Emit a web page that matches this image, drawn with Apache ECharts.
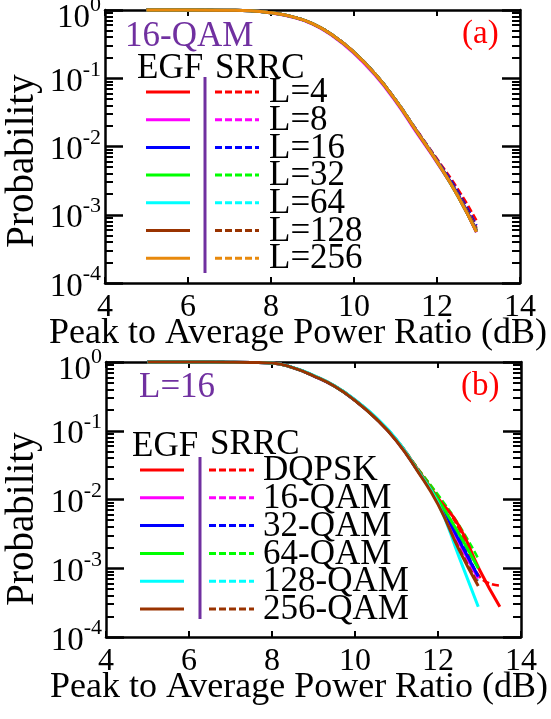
<!DOCTYPE html>
<html><head><meta charset="utf-8">
<script src="https://cdn.jsdelivr.net/npm/echarts@6/dist/echarts.min.js"></script>
<style>html,body{margin:0;padding:0;background:#fff}#c{width:551px;height:719px}</style>
</head><body><div id="c"></div>
<script>
// ---------- data ----------
const xTicks = [4, 6, 8, 10, 12, 14];
const yTickExponents = [-4, -3, -2, -1, 0];
const topLabels = ['L=4', 'L=8', 'L=16', 'L=32', 'L=64', 'L=128', 'L=256'];
const botLabels = ['DQPSK', '16-QAM', '32-QAM', '64-QAM', '128-QAM', '256-QAM'];

// panel (a): 16-QAM, PAPR CCDF
const topX = [5, 6, 7, 7.5, 8, 8.5, 9, 9.5, 10, 10.5, 11, 11.5, 12, 12.5, 12.95];
const egfL4   = [1, 1, 0.99, 0.973, 0.91, 0.80, 0.63, 0.42, 0.24, 0.117, 0.048, 0.0172, 0.0061, 0.0020, 0.00059];
const egfL8   = [1, 1, 0.99, 0.972, 0.905, 0.79, 0.62, 0.41, 0.232, 0.112, 0.046, 0.0162, 0.0058, 0.0019, 0.00055];
const egfL16  = [1, 1, 0.99, 0.973, 0.91, 0.80, 0.63, 0.42, 0.24, 0.117, 0.048, 0.0171, 0.0061, 0.0020, 0.00058];
const egfL32  = [1, 1, 0.99, 0.973, 0.91, 0.80, 0.63, 0.42, 0.24, 0.117, 0.048, 0.0170, 0.0060, 0.0019, 0.00057];
const egfL64  = [1, 1, 0.99, 0.973, 0.91, 0.80, 0.63, 0.42, 0.24, 0.117, 0.048, 0.0170, 0.0060, 0.0019, 0.00056];
const egfL128 = [1, 1, 0.99, 0.973, 0.91, 0.80, 0.63, 0.42, 0.24, 0.117, 0.048, 0.0169, 0.0060, 0.0019, 0.00056];
const egfL256 = [1, 1, 0.99, 0.973, 0.91, 0.80, 0.63, 0.42, 0.24, 0.117, 0.048, 0.0170, 0.0060, 0.0019, 0.00056];
const srrcL4   = [1, 1, 0.99, 0.974, 0.912, 0.80, 0.632, 0.422, 0.242, 0.118, 0.049, 0.0178, 0.0066, 0.0024, 0.00083];
const srrcL8   = [1, 1, 0.99, 0.973, 0.91, 0.80, 0.63, 0.42, 0.24, 0.117, 0.048, 0.0174, 0.0063, 0.0021, 0.00066];
const srrcL16  = [1, 1, 0.99, 0.973, 0.91, 0.80, 0.63, 0.42, 0.241, 0.118, 0.049, 0.0176, 0.0064, 0.0022, 0.00070];
const srrcL32  = [1, 1, 0.99, 0.973, 0.91, 0.80, 0.63, 0.42, 0.24, 0.117, 0.048, 0.0172, 0.0062, 0.0020, 0.00062];
const srrcL64  = [1, 1, 0.99, 0.973, 0.91, 0.80, 0.63, 0.42, 0.24, 0.117, 0.048, 0.0172, 0.0061, 0.0020, 0.00062];
const srrcL128 = [1, 1, 0.99, 0.973, 0.91, 0.80, 0.63, 0.42, 0.24, 0.117, 0.048, 0.0173, 0.0062, 0.0021, 0.00064];
const srrcL256 = [1, 1, 0.99, 0.973, 0.91, 0.80, 0.63, 0.42, 0.24, 0.117, 0.048, 0.0172, 0.0061, 0.0020, 0.00061];

// panel (b): L=16, PAPR CCDF
const botX     = [5, 6, 7, 7.5, 8, 8.5, 9, 9.5, 10, 10.5, 11, 11.5, 12, 12.5, 12.97];
const botXLong = [5, 6, 7, 7.5, 8, 8.5, 9, 9.5, 10, 10.5, 11, 11.5, 12, 12.5, 13.0, 13.49];
const egfDQPSK = [1, 1, 0.995, 0.986, 0.966, 0.83, 0.632, 0.45, 0.278, 0.153, 0.073, 0.0282, 0.0105, 0.0042, 0.00095, 0.000275];
const egf16QAM = [1, 1, 0.995, 0.986, 0.966, 0.83, 0.63, 0.447, 0.276, 0.152, 0.072, 0.0269, 0.0091, 0.0024, 0.00071];
const egf32QAM = [1, 1, 0.995, 0.986, 0.966, 0.83, 0.63, 0.447, 0.276, 0.152, 0.072, 0.0270, 0.0095, 0.0026, 0.00076];
const egf64QAM = [1, 1, 0.995, 0.986, 0.966, 0.83, 0.632, 0.449, 0.277, 0.153, 0.073, 0.0275, 0.0100, 0.0032, 0.00100];
const egf128QAM = [1, 1, 0.995, 0.986, 0.968, 0.835, 0.64, 0.455, 0.282, 0.158, 0.075, 0.0270, 0.0089, 0.0015, 0.000275];
const egf256QAM = [1, 1, 0.995, 0.986, 0.966, 0.83, 0.63, 0.447, 0.275, 0.151, 0.071, 0.0263, 0.0085, 0.0019, 0.00055];
const srrcDQPSK = [1, 1, 0.995, 0.987, 0.968, 0.835, 0.635, 0.452, 0.28, 0.155, 0.074, 0.0290, 0.0112, 0.0038, 0.00076, 0.00056];
const srrc16QAM = [1, 1, 0.995, 0.986, 0.966, 0.83, 0.63, 0.447, 0.276, 0.152, 0.072, 0.0270, 0.0093, 0.0025, 0.00063];
const srrc32QAM = [1, 1, 0.995, 0.986, 0.966, 0.83, 0.631, 0.448, 0.277, 0.152, 0.072, 0.0272, 0.0100, 0.0028, 0.00074];
const srrc64QAM = [1, 1, 0.995, 0.987, 0.968, 0.835, 0.636, 0.452, 0.28, 0.155, 0.074, 0.0290, 0.0117, 0.0043, 0.00138];
const srrc128QAM = [1, 1, 0.995, 0.986, 0.967, 0.833, 0.636, 0.452, 0.279, 0.155, 0.073, 0.0272, 0.0095, 0.0025, 0.00063];
const srrc256QAM = [1, 1, 0.995, 0.986, 0.966, 0.83, 0.63, 0.447, 0.275, 0.151, 0.071, 0.0265, 0.0089, 0.0021, 0.00060];

// ---------- styles ----------
const FONT = 'Liberation Serif';
const PURPLE = '#7030A0';
const colTop = ['#FF0000', '#FF00FF', '#0000FF', '#00FF00', '#00FFFF', '#993300', '#E8890C'];
const colBot = ['#FF0000', '#FF00FF', '#0000FF', '#00FF00', '#00FFFF', '#993300'];
const DASH = [7, 3];

const minorVals = [];
for (let d = -4; d < 0; d++) for (let k = 2; k <= 9; k++) minorVals.push(Number((k * Math.pow(10, d)).toPrecision(3)));

const grids = [
  { left: 105, top: 10, width: 415, height: 273, containLabel: false, outerBoundsMode: 'none' },
  { left: 106, top: 362, width: 415, height: 275, containLabel: false, outerBoundsMode: 'none' }
];

function xAxesFor(g) {
  const base = {
    gridIndex: g, type: 'value', min: xTicks[0], max: xTicks[xTicks.length - 1], interval: 2,
    splitLine: { show: false },
    axisLine: { show: true, onZero: false, lineStyle: { color: '#000', width: 2.5 } },
    axisTick: { show: true, inside: true, length: 6, lineStyle: { color: '#000', width: 2 } }
  };
  return [
    Object.assign({}, base, {
      position: 'bottom',
      axisLabel: { show: true, margin: 9, color: '#000', fontFamily: FONT, fontSize: 32 },
      name: 'Peak to Average Power Ratio (dB)', nameLocation: 'middle', nameGap: 33, nameMoveOverlap: false,
      nameTextStyle: { color: '#000', fontFamily: FONT, fontSize: 36, padding: [0, 29, 0, 0] }
    }),
    Object.assign({}, base, { position: 'top', axisLabel: { show: false } })
  ];
}

function yAxesFor(g) {
  const base = { gridIndex: g, type: 'log', logBase: 10, min: 1e-4, max: 1, splitLine: { show: false }, axisLabel: { show: false } };
  const major = { show: true, inside: true, length: 18, lineStyle: { color: '#000', width: 2.5 } };
  const minor = { show: true, inside: true, length: 8, customValues: minorVals, lineStyle: { color: '#000', width: 2 } };
  const line = { show: true, onZero: false, lineStyle: { color: '#000', width: 2.5 } };
  return [
    Object.assign({}, base, {
      position: 'left', axisLine: line, axisTick: major,
      axisLabel: {
        show: true, margin: 4, color: '#000',
        formatter: v => {
          const e = Math.round(Math.log10(v));
          return e === 0 ? '{b0|10}{s0|' + e + '}' : '{b|10}{s|' + e + '}';
        },
        rich: {
          b: { fontFamily: FONT, fontSize: 33, color: '#000', padding: [15, 0, 7, 0] },
          s: { fontFamily: FONT, fontSize: 22, color: '#000', verticalAlign: 'top', padding: [8, 0, 0, 0] },
          b0: { fontFamily: FONT, fontSize: 33, color: '#000', padding: [23, 0, 7, 0] },
          s0: { fontFamily: FONT, fontSize: 22, color: '#000', verticalAlign: 'top', padding: [16, 0, 0, 0] }
        }
      }
    }),
    Object.assign({}, base, { position: 'left', axisLine: { show: false }, axisTick: minor }),
    Object.assign({}, base, { position: 'right', axisLine: line, axisTick: major }),
    Object.assign({}, base, { position: 'right', axisLine: { show: false }, axisTick: minor })
  ];
}

function mk(name, xs, ys, color, dashed, g, z) {
  return {
    type: 'line', name: name, xAxisIndex: g * 2, yAxisIndex: g * 4,
    data: xs.map((x, i) => [x, ys[i]]),
    symbol: 'none', showSymbol: false, smooth: 0.5, clip: false,
    lineStyle: { color: color, width: dashed ? 2.5 : 3, type: dashed ? DASH : 'solid' },
    z: z, silent: true, animation: false
  };
}

const topEGF = [egfL4, egfL8, egfL16, egfL32, egfL64, egfL128, egfL256];
const topSRRC = [srrcL4, srrcL8, srrcL16, srrcL32, srrcL64, srrcL128, srrcL256];
const botEGF = [egfDQPSK, egf16QAM, egf32QAM, egf64QAM, egf128QAM, egf256QAM];
const botSRRC = [srrcDQPSK, srrc16QAM, srrc32QAM, srrc64QAM, srrc128QAM, srrc256QAM];

const series = [];
topLabels.forEach((l, i) => series.push(mk('SRRC ' + l, topX, topSRRC[i], colTop[i], true, 0, 3)));
topLabels.forEach((l, i) => series.push(mk('EGF ' + l, topX, topEGF[i], colTop[i], false, 0, 4)));
botLabels.forEach((l, i) => series.push(mk('SRRC ' + l, i === 0 ? botXLong : botX, botSRRC[i], colBot[i], true, 1, 3)));
botLabels.forEach((l, i) => series.push(mk('EGF ' + l, i === 0 ? botXLong : botX, botEGF[i], colBot[i], false, 1, 4)));

// ---------- legend / annotations (graphic) ----------
function txt(text, x, y, size, color, rot) {
  return {
    type: 'text', x: x, y: y, rotation: rot || 0, z: 100, silent: true,
    style: { text: text, fontFamily: FONT, fontSize: size, fill: color,
      align: rot ? 'center' : 'left', verticalAlign: 'middle',
      textAlign: rot ? 'center' : 'left', textVerticalAlign: 'middle' }
  };
}
function seg(x1, y1, x2, y2, color, dashed, w) {
  return { type: 'line', z: 100, silent: true, shape: { x1: x1, y1: y1, x2: x2, y2: y2 },
    style: { stroke: color, lineWidth: w || 3, lineDash: dashed ? DASH : null } };
}

const graphic = [];
// panel (a)
graphic.push(txt('16-QAM', 125, 37, 35, PURPLE));
graphic.push(txt('(a)', 462, 34, 33, '#FF0000'));
graphic.push(txt('EGF', 137, 69, 35, '#000'));
graphic.push(txt('SRRC', 215, 69, 35, '#000'));
graphic.push(seg(205, 77, 205, 273, PURPLE, false, 3));
topLabels.forEach((l, i) => {
  const y = 92 + i * 27.7;
  graphic.push(seg(146, y, 190, y, colTop[i], false));
  graphic.push(seg(215, y, 259, y, colTop[i], true));
  graphic.push(txt(l, 269, y + 1, 35, '#000'));
});
// panel (b)
graphic.push(txt('L=16', 139, 388, 35, PURPLE));
graphic.push(txt('(b)', 461, 386, 33, '#FF0000'));
graphic.push(txt('EGF', 132, 447, 35, '#000'));
graphic.push(txt('SRRC', 210, 445, 35, '#000'));
graphic.push(seg(200, 457, 200, 619, PURPLE, false, 3));
botLabels.forEach((l, i) => {
  const y = 470 + i * 27.8;
  graphic.push(seg(140, y, 184, y, colBot[i], false));
  graphic.push(seg(209, y, 254, y, colBot[i], true));
  graphic.push(txt(l, 263, y + 1, 35, '#000'));
});
// y axis titles
graphic.push(txt('Probability', 23, 161, 39, '#000', Math.PI / 2));
graphic.push(txt('Probability', 23, 519, 39, '#000', Math.PI / 2));

const chart = echarts.init(document.getElementById('c'), null, { renderer: 'canvas' });
chart.setOption({
  backgroundColor: '#fff',
  animation: false,
  grid: grids,
  xAxis: xAxesFor(0).concat(xAxesFor(1)),
  yAxis: yAxesFor(0).concat(yAxesFor(1)),
  series: series,
  graphic: graphic
});
</script></body></html>
